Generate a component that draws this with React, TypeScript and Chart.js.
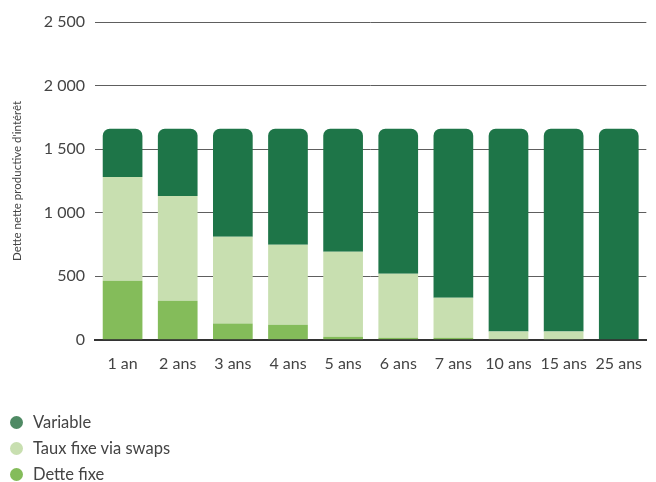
import React, { useEffect, useRef } from "react";
import { Chart, registerables } from "chart.js";

Chart.register(...registerables);

const categories = ["1 an", "2 ans", "3 ans", "4 ans", "5 ans", "6 ans", "7 ans", "10 ans", "15 ans", "25 ans"];
const detteFixe = [464, 307, 128, 118, 24, 16, 16, 0, 0, 0];
const tauxFixeSwaps = [817, 825, 682, 629, 668, 503, 314, 65, 65, 0];
const variable = [379, 528, 850, 913, 968, 1141, 1330, 1595, 1595, 1660];
const yTicks = [0, 500, 1000, 1500, 2000, 2500];
const yTitle = "Dette nette productive d'intérêt";

const colVariable = "#1e7548";
const colSwaps = "#c8dfb0";
const colFixe = "#84bc5a";
const legendItems = [
  { label: "Variable", color: "#4f8a64" },
  { label: "Taux fixe via swaps", color: "#c8dfb0" },
  { label: "Dette fixe", color: "#84bc5a" },
];

const FONT = "Lato, 'Open Sans', sans-serif";
const fmt = (v: number) => String(v).replace(/\B(?=(\d{3})+(?!\d))/g, " ");

export default function App() {
  const ref = useRef<HTMLCanvasElement>(null);
  useEffect(() => {
    document.body.style.margin = "0";
    const ctx = ref.current!;
    const chart = new Chart(ctx, {
      type: "bar",
      data: {
        labels: categories,
        datasets: [
          { label: "Dette fixe", data: detteFixe, backgroundColor: colFixe, borderRadius: 0, borderSkipped: false },
          { label: "Taux fixe via swaps", data: tauxFixeSwaps, backgroundColor: colSwaps, borderRadius: 0, borderSkipped: false },
          {
            label: "Variable",
            data: variable,
            backgroundColor: colVariable,
            borderRadius: { topLeft: 7, topRight: 7, bottomLeft: 0, bottomRight: 0 },
            borderSkipped: false,
          },
        ],
      },
      options: {
        animation: false,
        responsive: false,
        maintainAspectRatio: false,
        layout: { padding: { top: 22, right: 0, left: 10, bottom: 95 } },
        datasets: { bar: { barPercentage: 0.72, categoryPercentage: 1 } },
        plugins: { legend: { display: false }, tooltip: { enabled: false } },
        scales: {
          x: {
            stacked: true,
            grid: { display: false, drawTicks: false },
            border: { display: true, color: "#333", width: 2 },
            ticks: { color: "#444", font: { family: FONT, size: 16 }, padding: 14 },
          },
          y: {
            stacked: true,
            min: 0,
            max: 2500,
            afterBuildTicks: (axis: any) => {
              axis.ticks = yTicks.map((v) => ({ value: v }));
            },
            grid: {
              color: (c: any) => (c.tick && c.tick.value === 0 ? "rgba(0,0,0,0)" : "#5e5e5e"),
              lineWidth: 1,
              drawTicks: false,
            },
            border: { display: false },
            ticks: {
              color: "#444",
              font: { family: FONT, size: 16 },
              padding: 10,
              callback: (v: any) => fmt(Number(v)),
            },
            title: {
              display: true,
              text: yTitle,
              color: "#444",
              font: { family: FONT, size: 11.5 },
              padding: { top: 0, bottom: 10 },
            },
          },
        },
      },
    });
    return () => chart.destroy();
  }, []);

  return (
    <div style={{ position: "relative", width: 656, height: 482 }}>
      <canvas ref={ref} width={656} height={482} style={{ position: "absolute", left: 0, top: 0 }} />
      <div style={{ position: "absolute", left: 10, top: 409, fontFamily: FONT, fontSize: 16.5, color: "#444" }}>
        {legendItems.map((it) => (
          <div key={it.label} style={{ display: "flex", alignItems: "center", height: 26 }}>
            <span
              style={{
                display: "inline-block",
                width: 13,
                height: 13,
                borderRadius: "50%",
                background: it.color,
                marginRight: 10,
              }}
            />
            <span>{it.label}</span>
          </div>
        ))}
      </div>
    </div>
  );
}
